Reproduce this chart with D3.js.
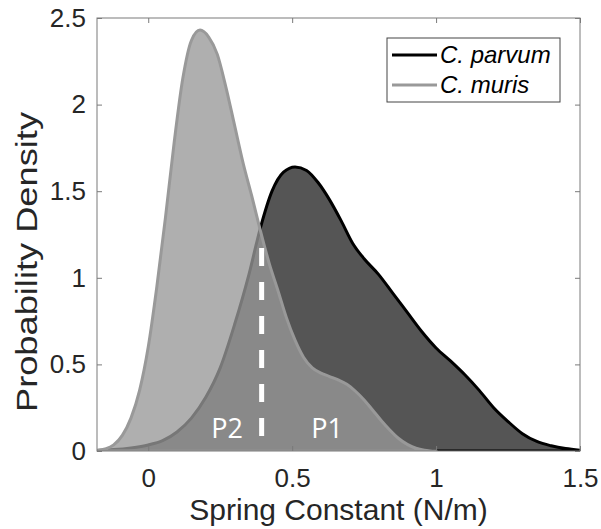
<!DOCTYPE html>
<html><head><meta charset="utf-8">
<script src="https://cdn.jsdelivr.net/npm/d3@7/dist/d3.min.js"></script>
<style>body{margin:0;background:#fff}svg{display:block}</style>
</head><body><svg id="c" width="601" height="529"></svg>
<script>
// ---- data ----
const seriesNames = ["C. parvum", "C. muris"];
const parvumX = [-0.18,-0.12,-0.06,0.0,0.05,0.10,0.15,0.20,0.25,0.30,0.35,0.39,0.43,0.47,0.51,0.55,0.59,0.63,0.67,0.71,0.75,0.80,0.85,0.90,0.95,1.00,1.05,1.10,1.15,1.20,1.25,1.30,1.35,1.40,1.45,1.50];
const parvumY = [0.003,0.008,0.018,0.035,0.06,0.11,0.19,0.31,0.48,0.73,1.02,1.29,1.50,1.61,1.64,1.62,1.55,1.45,1.33,1.20,1.11,1.02,0.91,0.80,0.69,0.595,0.52,0.44,0.35,0.25,0.17,0.10,0.055,0.03,0.014,0.005];
const murisX = [-0.18,-0.15,-0.12,-0.09,-0.06,-0.03,0.0,0.03,0.06,0.09,0.12,0.15,0.18,0.21,0.24,0.27,0.30,0.33,0.36,0.39,0.42,0.45,0.48,0.51,0.54,0.57,0.60,0.63,0.66,0.69,0.72,0.75,0.78,0.81,0.84,0.87,0.90,0.93,0.96,1.0];
const murisY = [0.004,0.012,0.035,0.09,0.19,0.35,0.60,0.95,1.35,1.78,2.15,2.37,2.43,2.39,2.29,2.10,1.88,1.66,1.47,1.27,1.085,0.93,0.77,0.64,0.54,0.48,0.45,0.43,0.41,0.385,0.345,0.295,0.235,0.175,0.12,0.072,0.038,0.016,0.005,0.0];
const xTicks = [0, 0.5, 1, 1.5];
const yTicks = [0, 0.5, 1, 1.5, 2, 2.5];
const xTickLabels = ["0", "0.5", "1", "1.5"];
const yTickLabels = ["0", "0.5", "1", "1.5", "2", "2.5"];
const splitX = [0.394];
const splitTop = [1.172];
const regionLabels = ["P2", "P1"];
const regionLabelX = [0.274, 0.621];
const regionLabelY = [0.075, 0.075];
const xTitle = "Spring Constant (N/m)";
const yTitle = "Probability Density";

// ---- drawing ----
const svg = d3.select("#c");
const L = 97, R = 580, T = 18, B = 451;
const x = d3.scaleLinear().domain([-0.178, 1.5]).range([L, R]);
const y = d3.scaleLinear().domain([0, 2.5]).range([B, T]);
const font = "'Liberation Sans', Arial, sans-serif";

svg.append("defs").append("clipPath").attr("id", "clip")
  .append("rect").attr("x", L).attr("y", T).attr("width", R - L).attr("height", B - T);

const g = svg.append("g").attr("clip-path", "url(#clip)");
const parvum = parvumX.map((v, i) => [v, parvumY[i]]);
const muris = murisX.map((v, i) => [v, murisY[i]]);
const area = d3.area().x(d => x(d[0])).y0(y(0)).y1(d => y(d[1])).curve(d3.curveMonotoneX);
const line = d3.line().x(d => x(d[0])).y(d => y(d[1])).curve(d3.curveMonotoneX);

function closed(data) {
  return line(data) + "L" + x(data[data.length - 1][0]) + "," + y(0) + "L" + x(data[0][0]) + "," + y(0) + "Z";
}

g.append("path").attr("d", area(parvum)).attr("fill", "#555555");
g.append("path").attr("d", closed(parvum)).attr("fill", "none").attr("stroke", "#000").attr("stroke-width", 3).attr("stroke-linejoin", "round");
g.append("path").attr("d", area(muris)).attr("fill", "#999999").attr("fill-opacity", 0.78);
g.append("path").attr("d", closed(muris)).attr("fill", "none").attr("stroke", "#999999").attr("stroke-width", 3).attr("stroke-linejoin", "round");

// dashed divider
g.selectAll(".split").data(splitX).enter().append("line")
  .attr("x1", d => x(d)).attr("x2", d => x(d))
  .attr("y1", (d, i) => y(splitTop[i])).attr("y2", y(0))
  .attr("stroke", "#fff").attr("stroke-width", 5).attr("stroke-dasharray", "18,16");

// region labels
g.selectAll(".rl").data(regionLabels).enter().append("text")
  .attr("x", (d, i) => x(regionLabelX[i])).attr("y", (d, i) => y(regionLabelY[i]))
  .attr("text-anchor", "middle").attr("fill", "#fff")
  .attr("font-family", "'Open Sans', sans-serif").attr("font-size", 27)
  .text(d => d);

// axes box with inward ticks
const axisColor = "#7a7a7a";
const tk = 5;
const ax = svg.append("g");
ax.append("rect").attr("x", L).attr("y", T).attr("width", R - L).attr("height", B - T)
  .attr("fill", "none").attr("stroke", axisColor).attr("stroke-width", 1);

const xb = svg.append("g").attr("transform", `translate(0,${B})`)
  .call(d3.axisBottom(x).tickValues(xTicks).tickSizeInner(-tk).tickSizeOuter(0).tickPadding(18).tickFormat((d, i) => xTickLabels[i]));
const xt = svg.append("g").attr("transform", `translate(0,${T})`)
  .call(d3.axisTop(x).tickValues(xTicks).tickSizeInner(-tk).tickSizeOuter(0).tickFormat(""));
const yl = svg.append("g").attr("transform", `translate(${L},0)`)
  .call(d3.axisLeft(y).tickValues(yTicks).tickSizeInner(-tk).tickSizeOuter(0).tickPadding(11).tickFormat((d, i) => yTickLabels[i]));
const yr = svg.append("g").attr("transform", `translate(${R},0)`)
  .call(d3.axisRight(y).tickValues(yTicks).tickSizeInner(-tk).tickSizeOuter(0).tickFormat(""));
[xb, xt, yl, yr].forEach(a => {
  a.select(".domain").remove();
  a.selectAll(".tick line").attr("stroke", axisColor);
  a.selectAll(".tick text").attr("font-family", font).attr("font-size", 26).attr("fill", "#262626");
});

// titles
svg.append("text").attr("x", (L + R) / 2).attr("y", 520).attr("text-anchor", "middle")
  .attr("font-family", font).attr("font-size", 30).attr("fill", "#262626").text(xTitle);
svg.append("text").attr("transform", "translate(37,262) rotate(-90)").attr("text-anchor", "middle")
  .attr("font-family", font).attr("font-size", 30).attr("fill", "#262626")
  .attr("textLength", 300).attr("lengthAdjust", "spacingAndGlyphs").text(yTitle);

// legend
const lg = svg.append("g");
lg.append("rect").attr("x", 387).attr("y", 38).attr("width", 173).attr("height", 64)
  .attr("fill", "#fff").attr("stroke", "#444").attr("stroke-width", 1);
const legColors = ["#000", "#999999"];
seriesNames.forEach((n, i) => {
  const cy = 55 + i * 30;
  lg.append("line").attr("x1", 392).attr("x2", 437).attr("y1", cy).attr("y2", cy)
    .attr("stroke", legColors[i]).attr("stroke-width", 3);
  lg.append("text").attr("x", 440).attr("y", cy + 8).attr("font-family", font)
    .attr("font-style", "italic").attr("font-size", 24).attr("fill", "#000").text(n);
});
</script>
</body></html>
